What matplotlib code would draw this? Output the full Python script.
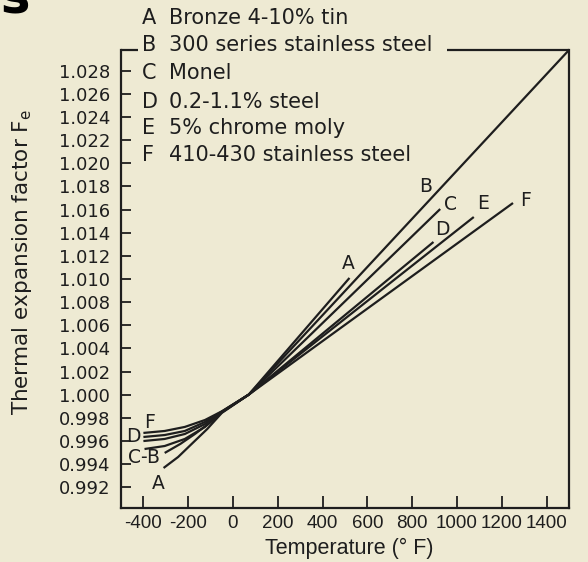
import matplotlib
matplotlib.use("Agg")
import matplotlib.pyplot as plt

plt.rcParams["axes.unicode_minus"] = False

# Thermal expansion factor Fe versus temperature for six alloys
temps_A = [-310, -245, -185, -115, -50, 70, 520]
fe_A = [0.99366, 0.99461, 0.99573, 0.99703, 0.99842, 1.0, 1.01009]

temps_B = [-305, -235, -170, -105, -50, 70, 1500]
fe_B = [0.99496, 0.99574, 0.99660, 0.99755, 0.99846, 1.0, 1.0298]

temps_C = [-395, -305, -215, -125, -50, 70, 925]
fe_C = [0.99530, 0.99556, 0.99617, 0.99721, 0.99849, 1.0, 1.01605]

temps_D = [-400, -305, -215, -125, -50, 70, 895]
fe_D = [0.99599, 0.99617, 0.99660, 0.99746, 0.99851, 1.0, 1.01320]

temps_E = [-400, -305, -215, -125, -50, 70, 1075]
fe_E = [0.99634, 0.99651, 0.99686, 0.99764, 0.99853, 1.0, 1.01536]

temps_F = [-400, -305, -215, -125, -50, 70, 1250]
fe_F = [0.99669, 0.99686, 0.99721, 0.99781, 0.99856, 1.0, 1.01657]

materials = [
    ("A", "Bronze 4-10% tin"),
    ("B", "300 series stainless steel"),
    ("C", "Monel"),
    ("D", "0.2-1.1% steel"),
    ("E", "5% chrome moly"),
    ("F", "410-430 stainless steel"),
]

x_ticks = [-400, -200, 0, 200, 400, 600, 800, 1000, 1200, 1400]
y_ticks = [0.992 + 0.002 * i for i in range(19)]

INK = "#1e1e1e"
PAPER = "#EEEAD3"
W, H = 588, 562

fig = plt.figure(figsize=(W / 100, H / 100), dpi=100, facecolor=PAPER)
ax = fig.add_axes([121 / W, 1 - 508 / H, 448 / W, 458 / H])
ax.set_facecolor(PAPER)

curves = [(temps_A, fe_A), (temps_B, fe_B), (temps_C, fe_C),
          (temps_D, fe_D), (temps_E, fe_E), (temps_F, fe_F)]
for t, f in curves:
    ax.plot(t, f, color=INK, lw=1.6, solid_capstyle="butt",
            solid_joinstyle="round", clip_on=False)

ax.set_xlim(-500, 1500)
ax.set_ylim(0.9902, 1.0298)

ax.set_xticks(x_ticks)
ax.set_xticklabels([str(v) for v in x_ticks], fontfamily="Liberation Sans", fontsize=13.5)
ax.set_yticks(y_ticks)
ax.set_yticklabels([f"{v:.3f}" for v in y_ticks], fontfamily="DejaVu Sans", fontsize=13)
ax.tick_params(axis="x", direction="in", length=8.5, width=1.3, color=INK,
               labelcolor=INK, pad=5)
ax.tick_params(axis="y", direction="in", length=7, width=1.3, color=INK,
               labelcolor=INK, pad=8)

for side in ("left", "right", "bottom"):
    ax.spines[side].set_color(INK)
    ax.spines[side].set_linewidth(1.6)
ax.spines["top"].set_visible(False)
# top border is broken where the material list crosses it
ax.plot([0, 0.038], [1.0, 1.0], transform=ax.transAxes, color=INK, lw=1.6,
        clip_on=False, solid_capstyle="butt")
ax.plot([0.728, 1.0], [1.0, 1.0], transform=ax.transAxes, color=INK, lw=1.6,
        clip_on=False, solid_capstyle="butt")

ax.set_xlabel("Temperature (° F)", fontfamily="Liberation Sans", fontsize=15.5,
              color=INK, va="center")
ax.xaxis.set_label_coords((349 - 121) / 448, (508 - 548) / 458)
ax.set_ylabel(r"Thermal expansion factor F$_\mathregular{e}$", fontfamily="DejaVu Sans",
              fontsize=15.5, color=INK, va="center")
ax.yaxis.set_label_coords((22 - 121) / 448, (508 - 262) / 458)

# curve letters at the upper and lower ends
upper_labels = {"A": (513, 1.01138), "B": (862, 1.01796), "C": (973, 1.0164),
                "D": (933, 1.01432), "E": (1116, 1.01657), "F": (1304, 1.01683)}
lower_labels = {"F": (-371, 0.99755), "D": (-446, 0.99634), "C-B": (-398, 0.99455),
                "A": (-335, 0.99236)}
for txt, (x, y) in upper_labels.items():
    ax.text(x, y, txt, fontsize=13.5, color=INK, ha="center", va="center",
            fontfamily="DejaVu Sans")
for txt, (x, y) in lower_labels.items():
    ax.text(x, y, txt, fontsize=13.5, color=INK, ha="center", va="center",
            fontfamily="DejaVu Sans", clip_on=False)

# material key across the top
line_y = [18, 45, 73, 102, 128, 155]
for (letter, name), yy in zip(materials, line_y):
    fig.text(142 / W, 1 - yy / H, letter, fontsize=15, color=INK, ha="left",
             va="center", fontfamily="DejaVu Sans")
    fig.text(169 / W, 1 - yy / H, name, fontsize=15, color=INK, ha="left",
             va="center", fontfamily="DejaVu Sans")

# tail of the slide heading above
fig.text(31 / W, 1 - 13 / H, "ss", fontsize=36, fontweight="bold", color="black",
         ha="right", va="baseline", fontfamily="DejaVu Sans")

fig.savefig("out.png", dpi=100, facecolor=PAPER)
